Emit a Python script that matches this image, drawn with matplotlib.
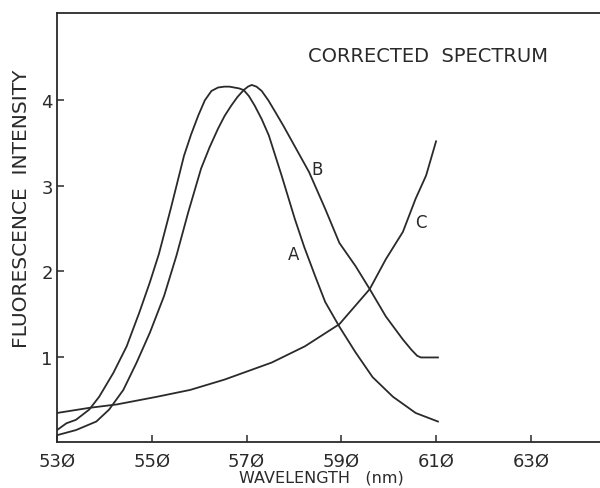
import matplotlib
matplotlib.use("Agg")
import matplotlib.pyplot as plt

# Data
A_x = [530, 532, 534, 536.8, 538.9, 541.9, 544.7, 547.4, 549.6, 551.5, 554, 556.8,
       558.3, 559.8, 561.2, 562.6, 564, 565.3, 566.4, 567.4, 568.4, 569.4, 570.5,
       571.7, 573.2, 574.7, 577.4, 580.2, 582.2, 584.5, 586.6, 589.6, 593, 596.6,
       600.9, 605.7, 610.4]
A_y = [0.14, 0.22, 0.26, 0.38, 0.53, 0.81, 1.12, 1.52, 1.87, 2.2, 2.73, 3.35,
       3.6, 3.82, 4.0, 4.11, 4.15, 4.16, 4.16, 4.15, 4.14, 4.12, 4.05,
       3.94, 3.78, 3.59, 3.12, 2.61, 2.28, 1.94, 1.64, 1.35, 1.05, 0.76,
       0.53, 0.34, 0.24]

B_x = [530, 534, 538.3, 541, 544, 546.8, 549.6, 552.6, 555.2, 557.7, 560.4, 562.2,
       564, 565.4, 566.8, 568.1, 569.4, 570.3, 571.1, 572.1, 573.2, 574.6, 576,
       577.8, 579.6, 583.2, 586.6, 589.6, 593, 596, 599.4, 603, 604.8, 606.0,
       606.8, 610.4]
B_y = [0.08, 0.14, 0.24, 0.38, 0.61, 0.93, 1.28, 1.71, 2.18, 2.69, 3.2, 3.45,
       3.67, 3.82, 3.94, 4.04, 4.12, 4.16, 4.18, 4.16, 4.11, 4.0, 3.87,
       3.7, 3.52, 3.16, 2.73, 2.33, 2.06, 1.79, 1.47, 1.2, 1.08, 1.01,
       0.99, 0.99]

C_x = [530, 536.8, 542.6, 551.1, 558.1, 565.3, 572.3, 575.3, 582.3, 589.6, 596,
       599.4, 603, 605.7, 607.9, 610]
C_y = [0.34, 0.40, 0.44, 0.53, 0.61, 0.73, 0.87, 0.93, 1.12, 1.38, 1.79,
       2.14, 2.46, 2.85, 3.12, 3.52]

x_ticks = [530, 550, 570, 590, 610, 630]
x_tick_labels = ["53Ø", "55Ø", "57Ø", "59Ø", "61Ø", "63Ø"]
y_ticks = [1, 2, 3, 4]
y_tick_labels = ["1", "2", "3", "4"]

ink = "#2a2a2a"
plt.rcParams['font.family'] = ['DejaVu Sans']

fig = plt.figure(figsize=(6, 4.89), dpi=100)
ax = fig.add_axes([0.095, 0.094, 0.905, 0.877])

for xs, ys in ((A_x, A_y), (B_x, B_y), (C_x, C_y)):
    ax.plot(xs, ys, color=ink, lw=1.3, solid_joinstyle='round')

ax.set_xlim(530, 644.6)
ax.set_ylim(0, 5.02)

ax.set_xticks(x_ticks)
ax.set_xticklabels(x_tick_labels)
ax.set_yticks(y_ticks)
ax.set_yticklabels(y_tick_labels)
ax.tick_params(direction='in', length=5, width=1.1, color=ink, labelcolor=ink,
               labelsize=13)
ax.tick_params(axis='x', pad=7)
ax.tick_params(axis='y', pad=3)

for side in ('left', 'bottom', 'top'):
    ax.spines[side].set_color(ink)
    ax.spines[side].set_linewidth(1.3)
ax.spines['right'].set_visible(False)

ax.set_xlabel("WAVELENGTH   (nm)", fontsize=11.5, color=ink)
ax.xaxis.set_label_coords(0.486, -0.063)
ax.set_ylabel("FLUORESCENCE  INTENSITY", fontsize=14.5, color=ink)
ax.yaxis.set_label_coords(-0.048, 0.545)

ax.text(580.0, 2.2, "A", fontsize=12, color=ink, ha='center', va='center')
ax.text(584.9, 3.2, "B", fontsize=12, color=ink, ha='center', va='center')
ax.text(606.8, 2.58, "C", fontsize=12, color=ink, ha='center', va='center')
ax.text(583, 4.53, "CORRECTED  SPECTRUM", fontsize=14, color=ink,
        ha='left', va='center')

fig.savefig("out.png", dpi=100, facecolor='white')
